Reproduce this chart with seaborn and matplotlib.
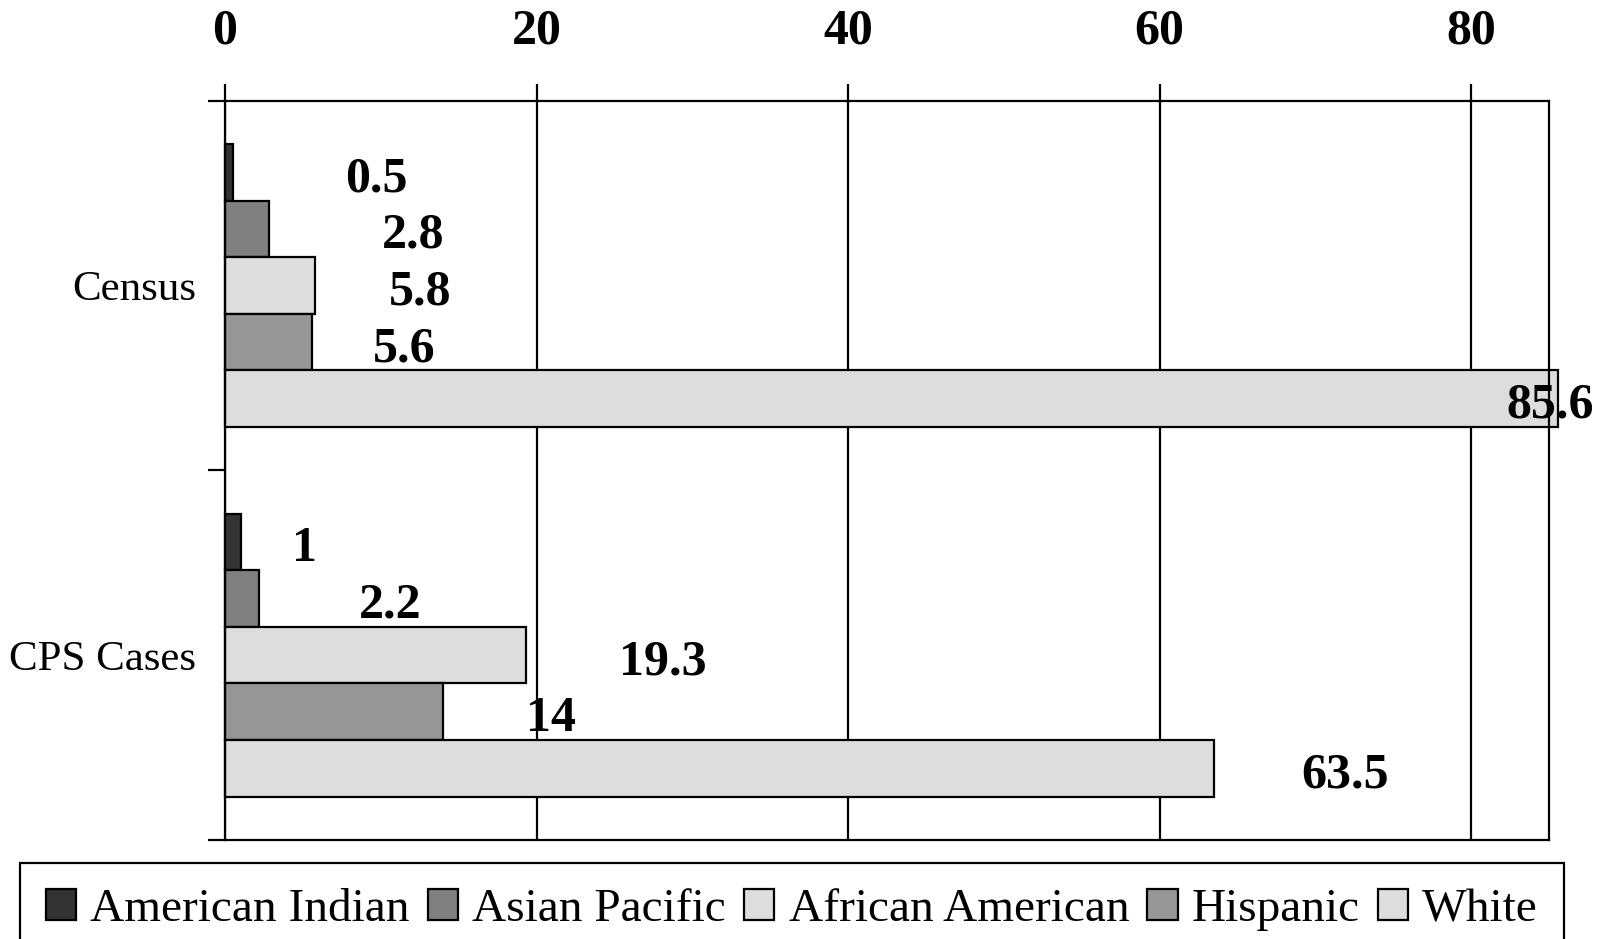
import numpy as np
import pandas as pd
import seaborn as sns
import matplotlib.pyplot as plt

# dados (percentual)
grupos = ['Census', 'CPS Cases']
racas = ['American Indian', 'Asian Pacific', 'African American', 'Hispanic', 'White']
census_pct = [0.5, 2.8, 5.8, 5.6, 85.6]
cps_pct = [1, 2.2, 19.3, 14, 63.5]
x_ticks = [0, 20, 40, 60, 80]

# estilo
cores = {'American Indian': '#333333', 'Asian Pacific': '#808080',
         'African American': '#dddddd', 'Hispanic': '#969696', 'White': '#dddddd'}
# deslocamento horizontal dos rotulos (unidades do eixo), por grupo e raca
desloc_rotulo = [[9.2, 9.3, 6.7, 5.9, -0.5],
                 [4.1, 8.4, 8.8, 6.9, 8.4]]

df = pd.DataFrame({
    'grupo': np.repeat(grupos, len(racas)),
    'raca': racas * len(grupos),
    'pct': census_pct + cps_pct,
})

sns.set_theme(style='white')
plt.rcParams['font.family'] = ['Liberation Serif', 'DejaVu Serif']
plt.rcParams['text.color'] = 'black'
plt.rcParams['xtick.color'] = 'black'
plt.rcParams['ytick.color'] = 'black'
plt.rcParams['xtick.labelcolor'] = 'black'
plt.rcParams['ytick.labelcolor'] = 'black'

fig = plt.figure(figsize=(16.02, 9.39), dpi=100)
ax = fig.add_axes([225 / 1602, 1 - 840 / 939, (1549 - 225) / 1602, (840 - 100.7) / 939])

sns.barplot(data=df, y='grupo', x='pct', hue='raca', hue_order=racas, order=grupos,
            orient='h', palette=cores, width=0.765, saturation=1,
            edgecolor='black', linewidth=1.6, legend=False, ax=ax)

for p in ax.patches:
    p.set_clip_on(False)

ax.set_xlim(0, 85)
ax.set_ylim(1.5, -0.5)
ax.set_xlabel('')
ax.set_ylabel('')

# eixo x no topo
ax.xaxis.tick_top()
ax.set_xticks(x_ticks)
ax.set_xticklabels([str(t) for t in x_ticks], fontsize=36, fontweight='bold')
ax.tick_params(axis='x', direction='out', length=12, width=1.6, pad=21)
ax.grid(axis='x', color='black', lw=1.6)
ax.grid(axis='y', visible=False)
ax.set_axisbelow(True)

# eixo y
ax.set_yticks([0, 1])
ax.set_yticklabels(grupos, fontsize=31)
ax.tick_params(axis='y', which='major', length=0, pad=21)
ax.set_yticks([-0.5, 0.5, 1.5], minor=True)
ax.tick_params(axis='y', which='minor', left=True, direction='out', length=12, width=1.6)

for s in ax.spines.values():
    s.set_color('black')
    s.set_linewidth(1.6)

# rotulos de valor
for ri, cont in enumerate(ax.containers):
    for gi, bar in enumerate(cont):
        v = bar.get_width()
        y = bar.get_y() + bar.get_height() / 2
        ax.annotate(f'{v:g}', (v + desloc_rotulo[gi][ri], y), xytext=(0, -5),
                    textcoords='offset points', ha='center', va='center',
                    fontsize=36, fontweight='bold', color='black', annotation_clip=False)

# legenda
handles = [cont.patches[0] for cont in ax.containers]
leg = fig.legend(handles, racas, loc='upper left',
                 bbox_to_anchor=(20 / 1602, 1 - 863 / 939, (1564 - 20) / 1602, 0.0),
                 mode='expand', ncol=5, fontsize=34, frameon=True, fancybox=False,
                 edgecolor='black', framealpha=1, handlelength=0.64, handleheight=0.64,
                 handletextpad=0.3, borderpad=0.55, borderaxespad=0, columnspacing=0.5)
leg.get_frame().set_linewidth(1.6)

fig.savefig('out.png', dpi=100)
